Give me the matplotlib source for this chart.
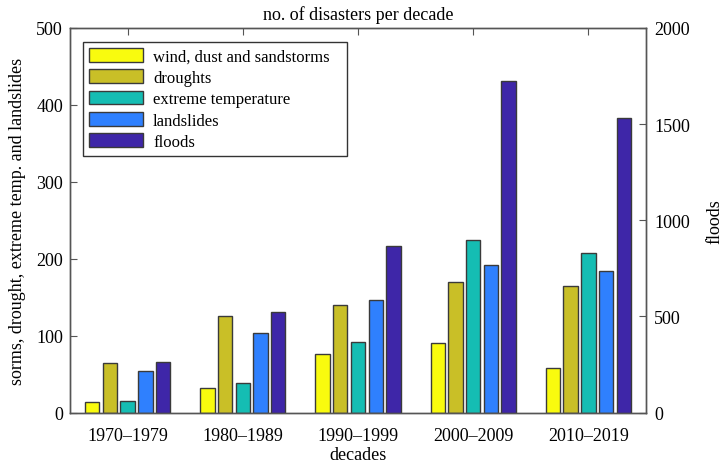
import matplotlib
matplotlib.use("Agg")
import matplotlib.pyplot as plt
from matplotlib.patches import Rectangle
import numpy as np

decades = ["1970–1979", "1980–1989", "1990–1999", "2000–2009", "2010–2019"]
storms = [13.5, 32.5, 76, 90.5, 58]
droughts = [65, 126, 140, 170, 165]
extreme_temp = [15, 38, 92, 224, 207]
landslides = [54, 104, 146, 192, 184]
floods = [263, 523, 866, 1724, 1531]

series_names = ["wind, dust and sandstorms", "droughts", "extreme temperature", "landslides", "floods"]
colors = ["#F9FB0E", "#C9BF27", "#15BDB3", "#2F80FE", "#3E26A8"]

plt.rcParams['font.family'] = ['Liberation Serif', 'DejaVu Serif']
plt.rcParams['font.size'] = 13

fig = plt.figure(figsize=(7.26, 4.64), dpi=100)
ax = fig.add_axes([0.0964, 0.1084, 0.7934, 0.8296])
ax2 = ax.twinx()

x = np.arange(1, len(decades) + 1)
pitch = 0.154
width = 0.125
left_series = [storms, droughts, extreme_temp, landslides]
handles = []
for i, vals in enumerate(left_series):
    h = ax.bar(x + (i - 2) * pitch, vals, width, color=colors[i],
               edgecolor="#3a3a3a", linewidth=1.0, label=series_names[i], zorder=2)
    handles.append(h)
h = ax2.bar(x + 2 * pitch, floods, width, color=colors[4],
            edgecolor="#3a3a3a", linewidth=1.0, label=series_names[4], zorder=2)
handles.append(h)

ax.set_xlim(0.5, 5.5)
ax.set_ylim(0, 500)
ax2.set_ylim(0, 2000)
ax.set_xticks(x)
ax.set_xticklabels(decades)
ax.set_yticks([0, 100, 200, 300, 400, 500])
ax2.set_yticks([0, 500, 1000, 1500, 2000])

axcol = "#555555"
for a in (ax, ax2):
    for s in a.spines.values():
        s.set_color(axcol)
        s.set_linewidth(1.0)
ax.tick_params(axis='x', direction='in', top=True, bottom=True, length=5, color=axcol, pad=10)
ax.tick_params(axis='y', direction='in', left=True, right=False, length=5, color=axcol, pad=5)
ax2.tick_params(axis='y', direction='in', right=True, length=5, color=axcol, pad=6)

ax.set_title("no. of disasters per decade", fontsize=13, pad=6)
ax.set_xlabel("decades", labelpad=2)
ax.set_ylabel("sorms, drought, extreme temp. and landslides", labelpad=7)
ax2.set_ylabel("floods", labelpad=12)

leg = ax2.legend(handles=handles, labels=series_names, loc="upper left",
                 bbox_to_anchor=(0.0226, 0.963), borderaxespad=0.0,
                 frameon=False, handlelength=3.25, handleheight=0.9,
                 labelspacing=0.28, borderpad=0.35, handletextpad=0.6, fontsize=12)

# draw a legend frame a little wider on the right, like the reference
fig.canvas.draw()
bb = leg.get_window_extent().transformed(ax2.transAxes.inverted())
extra = 12.0 / (ax2.bbox.width)
frame = Rectangle((bb.x0, bb.y0), bb.width + extra, bb.height, transform=ax2.transAxes,
                  facecolor="white", edgecolor="#333333", linewidth=1.0, zorder=4)
ax2.add_patch(frame)
leg.set_zorder(5)

fig.savefig("out.png", dpi=100)
